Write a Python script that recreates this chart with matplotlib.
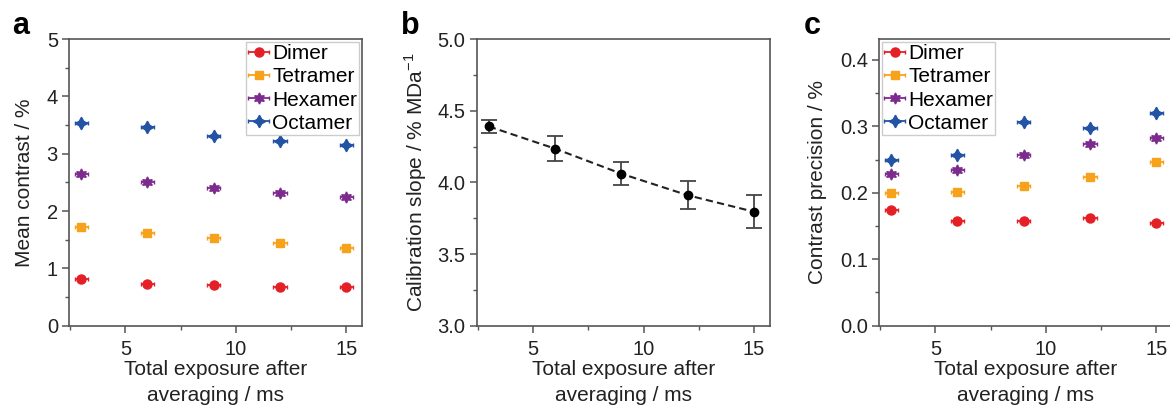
import numpy as np
import matplotlib.pyplot as plt
from matplotlib.ticker import MultipleLocator

plt.rcParams['font.family'] = ['Liberation Sans', 'DejaVu Sans']

# exposure after averaging (ms)
exposure = [3, 6, 9, 12, 15]
species = ['Dimer', 'Tetramer', 'Hexamer', 'Octamer']

# panel a: mean contrast (%)
mean_dimer = [0.81, 0.73, 0.71, 0.67, 0.68]
mean_tetramer = [1.73, 1.61, 1.53, 1.45, 1.35]
mean_hexamer = [2.64, 2.51, 2.41, 2.32, 2.24]
mean_octamer = [3.54, 3.46, 3.31, 3.22, 3.15]

# panel b: calibration slope (% / MDa)
slope = [4.39, 4.235, 4.06, 3.91, 3.795]
slope_err = [0.045, 0.085, 0.08, 0.097, 0.115]

# panel c: contrast precision (%)
prec_dimer = [0.174, 0.158, 0.158, 0.162, 0.154]
prec_tetramer = [0.200, 0.201, 0.210, 0.224, 0.247]
prec_hexamer = [0.228, 0.234, 0.257, 0.274, 0.283]
prec_octamer = [0.250, 0.257, 0.307, 0.298, 0.320]

colors = ['#e41f26', '#f7a21b', '#7d2a8e', '#2353a5']
markers = ['o', 's', (6, 1, 0), (4, 1, 0)]
msizes = [6.5, 6, 8, 9]
spine_col = '#555555'
text_col = '#222222'


def style_axes(ax):
    for s in ax.spines.values():
        s.set_color(spine_col)
        s.set_linewidth(1.2)
    ax.tick_params(which='both', direction='out', top=False, right=False,
                   color=spine_col, labelsize=14.5, labelcolor=text_col)
    ax.tick_params(axis='x', pad=5)
    ax.tick_params(axis='y', pad=3)
    ax.tick_params(which='major', length=5, width=1.1)
    ax.tick_params(which='minor', length=3, width=1.0)
    ax.set_xlim(2.45, 15.72)
    ax.xaxis.set_major_locator(MultipleLocator(5))
    ax.xaxis.set_minor_locator(MultipleLocator(2.5))
    ax.set_xlabel('Total exposure after\naveraging / ms', fontsize=15,
                  color=text_col, linespacing=1.5, labelpad=1)


def draw_species(ax, series):
    for name, vals, c, m, ms in zip(species, series, colors, markers, msizes):
        ax.errorbar(exposure, vals, xerr=0.3, marker=m, linestyle='none',
                    color=c, ms=ms, mec=c, elinewidth=1.3, capsize=1.5,
                    label=name)


def add_legend(ax, loc):
    ax.legend(loc=loc, fontsize=15, handlelength=1.0, handletextpad=0.15,
              borderpad=0.1, labelspacing=0.2, borderaxespad=0.15,
              fancybox=False, edgecolor='#cccccc', framealpha=1)


fig = plt.figure(figsize=[11.7, 4.08], dpi=100)
bottom = 0.2017
height = 0.7027
width = 0.2507
ax_a = fig.add_axes([0.059, bottom, width, height])
ax_b = fig.add_axes([0.4074, bottom, width, height])
ax_c = fig.add_axes([0.7513, bottom, width, height])

# panel a
draw_species(ax_a, [mean_dimer, mean_tetramer, mean_hexamer, mean_octamer])
style_axes(ax_a)
ax_a.set_ylim(0, 5)
ax_a.yaxis.set_major_locator(MultipleLocator(1))
ax_a.yaxis.set_minor_locator(MultipleLocator(0.5))
ax_a.set_ylabel('Mean contrast / %', fontsize=15, color=text_col, labelpad=9)
add_legend(ax_a, 'upper right')

# panel b
ax_b.plot(exposure, slope, '--', color='#222222', lw=1.5, dashes=(3.5, 2))
ax_b.errorbar(exposure, slope, yerr=slope_err, fmt='o', color='black', ms=6,
              ecolor='#444444', elinewidth=1.3, capsize=5.5, capthick=1.3)
style_axes(ax_b)
ax_b.set_ylim(3.0, 5.0)
ax_b.yaxis.set_major_locator(MultipleLocator(0.5))
ax_b.yaxis.set_minor_locator(MultipleLocator(0.25))
ax_b.yaxis.set_major_formatter(plt.FormatStrFormatter('%.1f'))
ax_b.set_ylabel('Calibration slope / % MDa$^{\\mathregular{-1}}$', fontsize=15,
                color=text_col, labelpad=6)

# panel c
draw_species(ax_c, [prec_dimer, prec_tetramer, prec_hexamer, prec_octamer])
style_axes(ax_c)
ax_c.set_ylim(0, 0.4316)
ax_c.yaxis.set_major_locator(MultipleLocator(0.1))
ax_c.yaxis.set_minor_locator(MultipleLocator(0.05))
ax_c.yaxis.set_major_formatter(plt.FormatStrFormatter('%.1f'))
ax_c.set_ylabel('Contrast precision / %', fontsize=15, color=text_col, labelpad=9)
add_legend(ax_c, 'upper left')

# panel letters
fig.text(0.010, 0.936, 'a', fontsize=22, fontweight='bold', va='center')
fig.text(0.343, 0.936, 'b', fontsize=22, fontweight='bold', va='center')
fig.text(0.687, 0.936, 'c', fontsize=22, fontweight='bold', va='center')

plt.savefig('out.png', dpi=100)
